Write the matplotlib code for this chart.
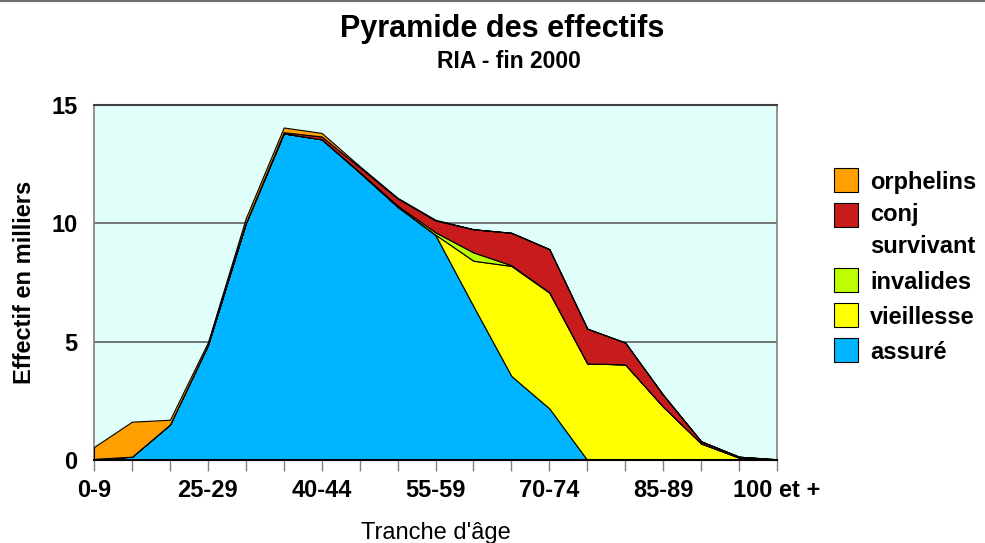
import matplotlib
matplotlib.use("Agg")
import matplotlib.pyplot as plt
from matplotlib.patches import Rectangle
from matplotlib.lines import Line2D
import numpy as np

categories = ['0-9', '10-19', '20-24', '25-29', '30-34', '35-39', '40-44', '45-49',
              '50-54', '55-59', '60-64', '65-69', '70-74', '75-79', '80-84',
              '85-89', '90-94', '95-99', '100 et +']
assure     = [0.05, 0.14, 1.50, 4.85, 10.00, 13.80, 13.55, 12.15, 10.70, 9.50,
              6.50, 3.55, 2.18, 0.00, 0.00, 0.00, 0.00, 0.00, 0.00]
vieillesse = [0.00, 0.00, 0.00, 0.00, 0.00, 0.00, 0.00, 0.00, 0.00, 0.02,
              1.92, 4.65, 4.89, 4.08, 4.04, 2.25, 0.70, 0.10, 0.02]
invalides  = [0.00, 0.00, 0.00, 0.00, 0.00, 0.00, 0.00, 0.02, 0.05, 0.10,
              0.35, 0.03, 0.02, 0.00, 0.00, 0.00, 0.00, 0.00, 0.00]
conj       = [0.00, 0.00, 0.00, 0.00, 0.02, 0.05, 0.12, 0.20, 0.30, 0.50,
              0.98, 1.37, 1.82, 1.47, 0.92, 0.50, 0.09, 0.04, 0.01]
orphelins  = [0.50, 1.48, 0.20, 0.12, 0.20, 0.20, 0.15, 0.05, 0.03, 0.03,
              0.00, 0.00, 0.00, 0.00, 0.00, 0.00, 0.00, 0.00, 0.00]

series_names = ['assuré', 'vieillesse', 'invalides', 'conj\nsurvivant', 'orphelins']
series_vals = [assure, vieillesse, invalides, conj, orphelins]
colors = ['#00B4FF', '#FFFF00', '#BBFF00', '#C81C1C', '#FFA000']

plt.rcParams['font.family'] = ['Liberation Sans', 'DejaVu Sans']

W, H = 985, 543
fig = plt.figure(figsize=(W/100, H/100), dpi=100)
ax = fig.add_axes([94/W, 83/H, (777-94)/W, (460-105)/H])
ax.set_facecolor('#E0FFFA')

x = np.arange(len(categories))
ax.stackplot(x, *series_vals, colors=colors, edgecolor='black', linewidth=0.8, zorder=3)

ax.set_xlim(0, len(categories) - 1)
ax.set_ylim(0, 15)
ax.set_yticks([0, 5, 10, 15])
for yv in [5, 10]:
    ax.axhline(yv, color='#606060', linewidth=1.2, zorder=1)

ax.set_xticks(x)
ax.set_xticklabels([c if i % 3 == 0 else '' for i, c in enumerate(categories)])
ax.tick_params(axis='x', direction='out', length=8, width=1, color='#808080',
               labelsize=17, pad=6)
ax.tick_params(axis='y', length=0, labelsize=17, pad=12)
for lab in ax.get_xticklabels() + ax.get_yticklabels():
    lab.set_fontweight('bold')

ax.spines['top'].set_color('#404040')
ax.spines['top'].set_linewidth(1.5)
for s in ['left', 'right']:
    ax.spines[s].set_color('#808080')
    ax.spines[s].set_linewidth(1.2)
ax.spines['bottom'].set_color('black')
ax.spines['bottom'].set_linewidth(1.5)
ax.spines['bottom'].set_zorder(5)

ax.set_ylabel('Effectif en milliers', fontsize=17, fontweight='bold', labelpad=11)
ax.set_xlabel("Tranche d'âge", fontsize=17, labelpad=14)

fig.text(502/W, 1 - 29/H, 'Pyramide des effectifs', ha='center', va='center',
         fontsize=22, fontweight='bold')
fig.text(509/W, 1 - 61/H, 'RIA - fin 2000', ha='center', va='center',
         fontsize=16.5, fontweight='bold')

# legend (drawn in figure pixel positions)
legend_rows = [(4, 180), (3, 215), (2, 280), (1, 315), (0, 350)]
for idx, yc in legend_rows:
    fig.add_artist(Rectangle((834/W, 1 - (yc + 12)/H), 24/W, 24/H,
                             transform=fig.transFigure, facecolor=colors[idx],
                             edgecolor='black', linewidth=0.8))
    if '\n' in series_names[idx]:
        fig.text(870/W, 1 - (yc - 12)/H, series_names[idx], ha='left', va='top',
                 fontsize=17, fontweight='bold', linespacing=1.5)
    else:
        fig.text(870/W, 1 - yc/H, series_names[idx], ha='left', va='center_baseline',
                 fontsize=17, fontweight='bold')

fig.add_artist(Line2D([0, 1], [0.999, 0.999], transform=fig.transFigure,
                      color='#707070', linewidth=1.5))

fig.savefig('out.png', dpi=100)
